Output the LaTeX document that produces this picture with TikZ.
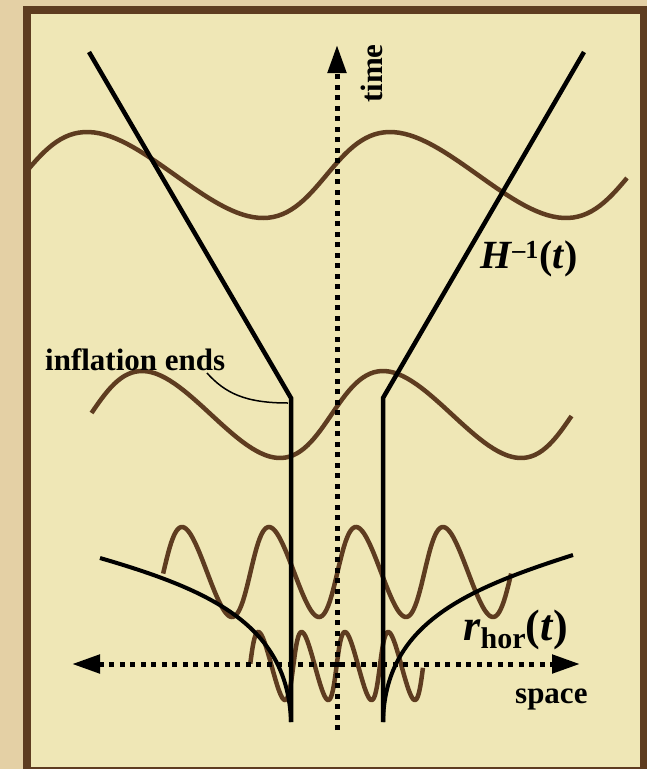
\documentclass[tikz,border=0pt]{standalone}
\usepackage{fontspec}
\setmainfont{Liberation Serif}
\usetikzlibrary{arrows.meta}
\definecolor{pergamino}{HTML}{E4D0A5}
\definecolor{crema}{HTML}{EFE7B6}
\definecolor{cafe}{HTML}{5E3C20}
\tikzset{
  etiqueta/.style={inner sep=0pt, font=\fontsize{31}{36}\selectfont\bfseries},
  grande/.style={inner sep=0pt, font=\fontsize{40}{46}\selectfont\bfseries},
  linea/.style={line width=4.5pt, black},
  curva/.style={line width=4pt, black},
  guia/.style={line width=1.5pt, black},
  onda/.style={line width=4.5pt, cafe},
  eje/.style={line width=5pt, dash pattern=on 5pt off 5.5pt, black},
}

\begin{document}
\begin{tikzpicture}[x=1pt, y=-1pt, >={Triangle[length=28pt, width=18pt]}]
  \clip (0,0) rectangle (647,769);
  \fill[pergamino] (0,0) rectangle (647,769);
  \draw[cafe, line width=8pt, fill=crema] (27,10) rectangle (644,771);

  \draw[onda] plot[domain=-81:626, samples=120] ({99.25+0.841667*\x-12.25*cos(\x)}, {175-43*cos(\x)});
  \draw[onda] plot[domain=-88:628, samples=120] ({150.75+0.669444*\x-8.75*cos(\x)}, {414.5-43.5*cos(\x)});
  \draw[onda] plot[domain=-92:1348, samples=240] ({185.25+0.241667*\x-3.25*cos(\x)}, {572-45*cos(\x)});
  \draw[onda] plot[domain=-86:1347, samples=240] ({260.8+0.120278*\x-2.5*cos(\x)}, {666-34*cos(\x)});

  \coordinate (arribaI) at (89,52);
  \coordinate (quiebreI) at (291,398);
  \coordinate (abajoI) at (291,722);
  \coordinate (arribaD) at (584,52);
  \coordinate (quiebreD) at (383,398);
  \coordinate (abajoD) at (383,722);
  \draw[linea] (arribaI) -- (quiebreI) -- (abajoI);
  \draw[linea] (arribaD) -- (quiebreD) -- (abajoD);
  \draw[curva] (abajoI) .. controls (288,625) and (210,590) .. (100,558);
  \draw[curva] (abajoD) .. controls (385,625) and (463,590) .. (573,555);

  \coordinate (t0) at (337,730);
  \coordinate (t1) at (337,45);
  \coordinate (x0) at (72,664);
  \coordinate (x1) at (580,664);
  \draw[eje, ->] (t0) -- (t1);
  \draw[eje, <->] (x0) -- (x1);

  \node[etiqueta, rotate=90, anchor=base west] (tiempo) at (382,103) {time};
  \node[etiqueta, anchor=base west] (espacio) at (515,703) {space};
  \node[etiqueta, anchor=base west] (fin) at (45,370) {inflation ends};
  \coordinate (finA) at (207,373);
  \coordinate (finB) at (288,403);
  \draw[guia] (finA) .. controls (225,393) and (245,403) .. (finB);
  \node[grande, anchor=base west] (hubble) at (480,268)
    {\textit{H}\raisebox{10pt}{\fontsize{26}{26}\selectfont –1}\kern1pt(\textit{t})};
  \node[grande, anchor=base west] (horizonte) at (463,640)
    {\fontsize{44}{50}\selectfont\textit{r}\raisebox{-8pt}{\fontsize{30}{30}\selectfont hor}(\textit{t})};
\end{tikzpicture}
\end{document}
